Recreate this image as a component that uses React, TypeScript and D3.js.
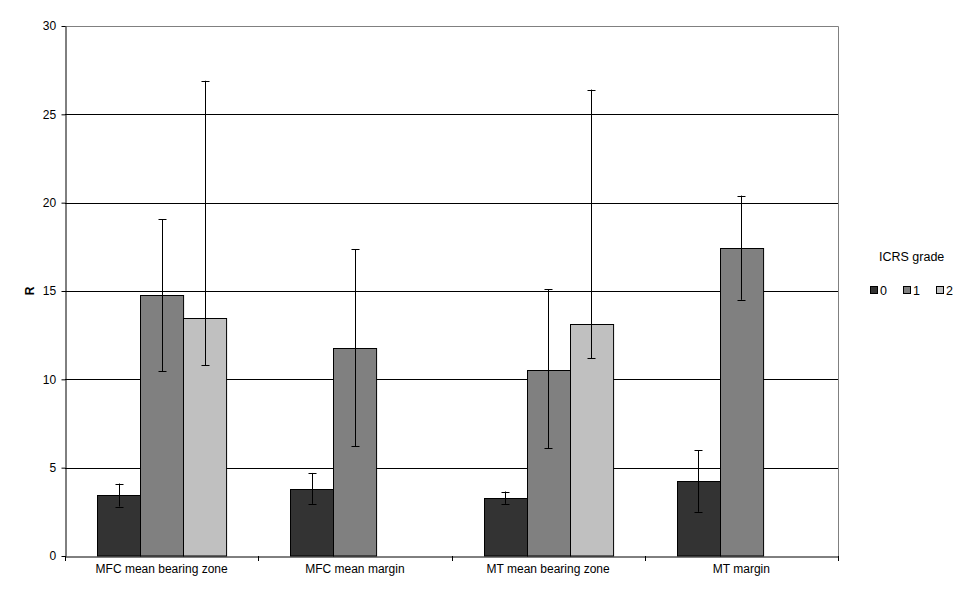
import React, { useEffect, useRef } from 'react';
import * as d3 from 'd3';

const categories = ['MFC mean bearing zone', 'MFC mean margin', 'MT mean bearing zone', 'MT margin'];
const grades = ['0', '1', '2'];
const colors = ['#333333', '#808080', '#c0c0c0'];

// mean per grade, null = no bar
const grade0 = [3.45, 3.8, 3.3, 4.25];
const grade1 = [14.75, 11.75, 10.55, 17.45];
const grade2 = [13.45, null, 13.15, null];

// error bar ends (low, high)
const err0 = [[2.8, 4.1], [2.95, 4.7], [2.95, 3.65], [2.5, 6.0]];
const err1 = [[10.45, 19.05], [6.2, 17.35], [6.1, 15.1], [14.5, 20.4]];
const err2 = [[10.8, 26.9], null, [11.2, 26.4], null];

const yTicks = [0, 5, 10, 15, 20, 25, 30];

const App = () => {
    const ref = useRef<SVGSVGElement>(null);

    useEffect(() => {
        const width = 968;
        const height = 601;
        const margin = { top: 26, right: 130, bottom: 45, left: 65 };
        const innerW = width - margin.left - margin.right;
        const innerH = height - margin.top - margin.bottom;

        const svg = d3.select(ref.current);
        svg.selectAll('*').remove();
        svg.style('font-family', '"Liberation Sans", Arial, sans-serif');

        const g = svg.append('g')
            .attr('transform', `translate(${margin.left}, ${margin.top})`);

        const xScale = d3.scaleBand()
            .domain(categories)
            .range([0, innerW])
            .paddingInner(0)
            .paddingOuter(0);

        const yScale = d3.scaleLinear()
            .domain([0, 30])
            .range([innerH, 0]);

        const xInner = d3.scaleBand()
            .domain(grades)
            .range([32, xScale.bandwidth() - 32])
            .padding(0);

        // gridlines
        g.selectAll('.grid')
            .data(yTicks.slice(1, -1))
            .enter()
            .append('line')
            .attr('x1', 0)
            .attr('x2', innerW)
            .attr('y1', d => Math.round(yScale(d)) + 0.5)
            .attr('y2', d => Math.round(yScale(d)) + 0.5)
            .attr('stroke', '#000')
            .attr('stroke-width', 1);

        // plot border top/right
        g.append('path')
            .attr('d', `M0,0.5H${innerW + 0.5}V${innerH}`)
            .attr('fill', 'none')
            .attr('stroke', '#808080');

        const series = [grade0, grade1, grade2];
        const errs = [err0, err1, err2];

        series.forEach((vals, si) => {
            const rows = categories.map((c, i) => ({ c, v: vals[i], e: errs[si][i] }))
                .filter(d => d.v !== null);

            g.selectAll(`.bar${si}`)
                .data(rows)
                .enter()
                .append('rect')
                .attr('x', d => Math.round(xScale(d.c)! + xInner(grades[si])!) + 0.5)
                .attr('y', d => Math.round(yScale(d.v as number)) + 0.5)
                .attr('width', xInner.bandwidth())
                .attr('height', d => innerH - Math.round(yScale(d.v as number)) - 0.5)
                .attr('fill', colors[si])
                .attr('stroke', '#000')
                .attr('stroke-width', 1);

            const eb = g.selectAll(`.err${si}`)
                .data(rows.filter(d => d.e))
                .enter()
                .append('g');
            const cx = (d: any) => Math.round(xScale(d.c)! + xInner(grades[si])! + xInner.bandwidth() / 2) + 0.5;
            eb.append('line')
                .attr('x1', cx).attr('x2', cx)
                .attr('y1', (d: any) => yScale(d.e[0]))
                .attr('y2', (d: any) => yScale(d.e[1]))
                .attr('stroke', '#000');
            [0, 1].forEach(k => {
                eb.append('line')
                    .attr('x1', (d: any) => cx(d) - 4)
                    .attr('x2', (d: any) => cx(d) + 4)
                    .attr('y1', (d: any) => Math.round(yScale(d.e[k])) + 0.5)
                    .attr('y2', (d: any) => Math.round(yScale(d.e[k])) + 0.5)
                    .attr('stroke', '#000');
            });
        });

        // axes
        const yAxis = d3.axisLeft(yScale)
            .tickValues(yTicks)
            .tickSize(4)
            .tickSizeOuter(0);
        const gy = g.append('g')
            .attr('transform', 'translate(0.5, 0)')
            .call(yAxis);
        gy.selectAll('text').attr('font-size', 12).attr('fill', '#000').attr('dx', '-0.2em');
        gy.select('.domain').attr('stroke', '#000');

        const xAxis = d3.axisBottom(xScale)
            .tickSize(0)
            .tickSizeOuter(0);
        const gx = g.append('g')
            .attr('transform', `translate(0, ${innerH + 0.5})`)
            .call(xAxis);
        gx.select('.domain').attr('stroke', '#000');
        gx.selectAll('text').attr('font-size', 12).attr('fill', '#000').attr('dy', '1.1em');

        // category boundary ticks
        g.selectAll('.xtick')
            .data(d3.range(categories.length + 1))
            .enter()
            .append('line')
            .attr('x1', i => Math.round(i * xScale.bandwidth()) + 0.5)
            .attr('x2', i => Math.round(i * xScale.bandwidth()) + 0.5)
            .attr('y1', innerH)
            .attr('y2', innerH + 5)
            .attr('stroke', '#000');

        // y title
        svg.append('text')
            .attr('transform', `translate(34, ${margin.top + innerH / 2}) rotate(-90)`)
            .attr('text-anchor', 'middle')
            .attr('font-size', 12)
            .attr('font-weight', 'bold')
            .text('R');

        // legend
        const lg = svg.append('g').attr('transform', 'translate(868, 0)');
        lg.append('text')
            .attr('x', 11)
            .attr('y', 261)
            .attr('font-size', 12.5)
            .text('ICRS grade');
        const items = lg.selectAll('.item')
            .data(grades)
            .enter()
            .append('g')
            .attr('transform', (d, i) => `translate(${i * 33}, 0)`);
        items.append('rect')
            .attr('x', 2.5)
            .attr('y', 286.5)
            .attr('width', 7)
            .attr('height', 7)
            .attr('fill', (d, i) => colors[i])
            .attr('stroke', '#000');
        items.append('text')
            .attr('x', 12)
            .attr('y', 295)
            .attr('font-size', 12.5)
            .text(d => d);
    }, []);

    return (
        <svg ref={ref} width={968} height={601} style={{ position: 'absolute', left: 0, top: 0, background: '#fff' }}></svg>
    );
};

export default App;
